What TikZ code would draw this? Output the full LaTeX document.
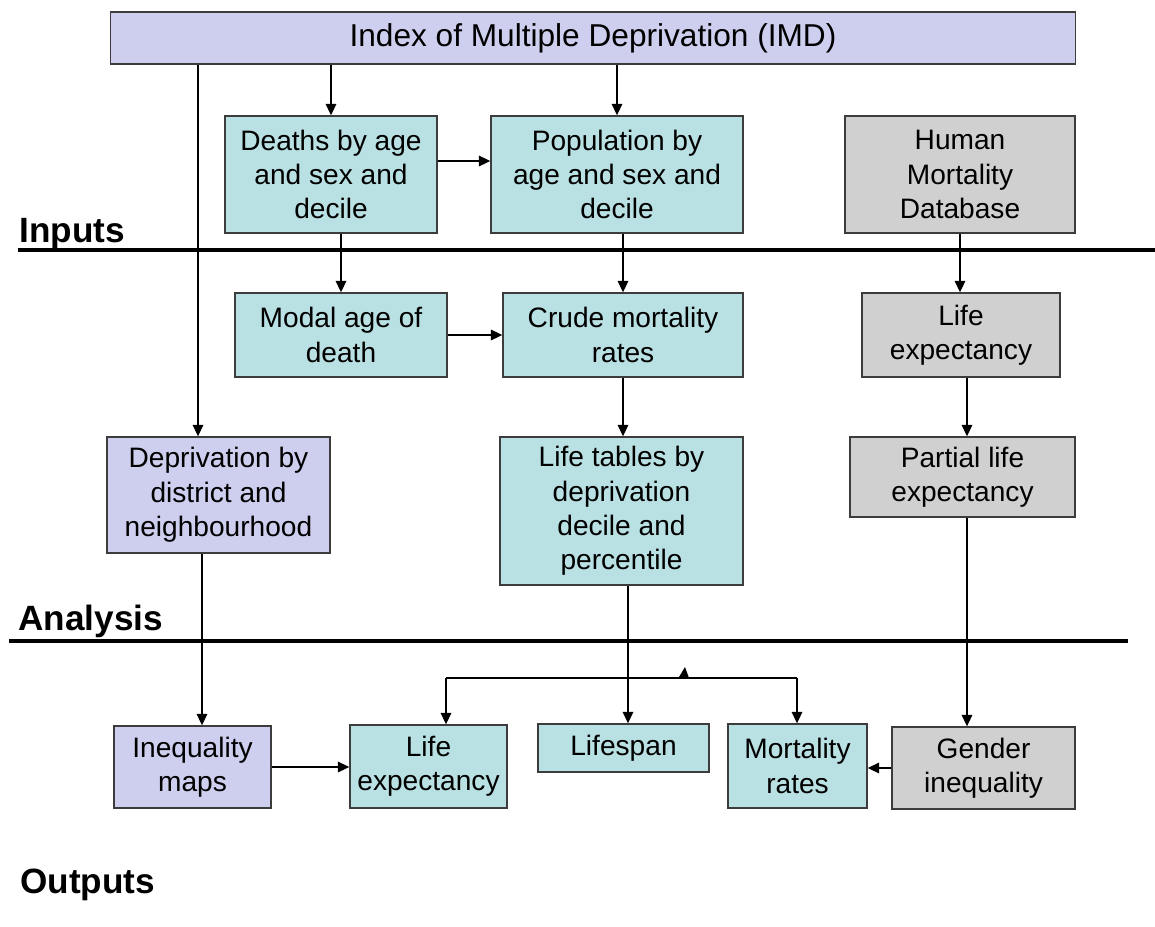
\documentclass[tikz,border=0pt]{standalone}
\usepackage{fontspec}
\setmainfont{Liberation Sans}
\usetikzlibrary{arrows.meta}
\usetikzlibrary{positioning}
\definecolor{imdblue}{RGB}{206,206,238}
\definecolor{tealbox}{RGB}{185,224,226}
\definecolor{greybox}{RGB}{208,208,208}
\definecolor{boxline}{RGB}{60,60,60}

\begin{document}
\begin{tikzpicture}[x=0.02cm, y=-0.02cm,
  box/.style={draw=boxline, line width=0.8pt, align=center, inner sep=0pt, font=\fontsize{16}{19.6}\selectfont},
  imdbox/.style={box, fill=imdblue},
  tbox/.style={box, fill=tealbox},
  gbox/.style={box, fill=greybox},
  flow/.style={-{Triangle[length=6.5pt,width=6pt]}, line width=0.8pt},
  rule/.style={line width=1.8pt},
  stage/.style={font=\bfseries\fontsize{20}{24}\selectfont, anchor=base west, inner sep=0pt}]
  \useasboundingbox (0,0) rectangle (1155,926);

  \node[imdbox, minimum width=19.3cm, minimum height=1.04cm, font=\fontsize{18}{20}\selectfont] (imd) at (593,38) {Index of Multiple Deprivation (IMD)};

  \node[tbox, minimum width=4.24cm, minimum height=2.34cm] (deaths) at (331,174.5) {Deaths by age\\and sex and\\decile};
  \node[tbox, minimum width=5.04cm, minimum height=2.34cm] (pop) at (617,174.5) {Population by\\age and sex and\\decile};
  \node[gbox, minimum width=4.6cm, minimum height=2.34cm] (hmd) at (960,174.5) {Human\\Mortality\\Database};

  \node[tbox, minimum width=4.24cm, minimum height=1.68cm] (modal) at (341,335) {Modal age of\\death};
  \node[tbox, minimum width=4.8cm, minimum height=1.68cm] (crude) at (623,335) {Crude mortality\\rates};
  \node[gbox, minimum width=3.96cm, minimum height=1.68cm] (lexpg) at (961,335) {Life\\expectancy};

  \node[imdbox, minimum width=4.46cm, minimum height=2.32cm] (dep) at (218.5,495) {Deprivation by\\district and\\neighbourhood};
  \node[tbox, minimum width=4.86cm, minimum height=2.96cm] (tables) at (621.5,511) {Life tables by\\deprivation\\decile and\\percentile};
  \node[gbox, minimum width=4.5cm, minimum height=1.6cm] (partial) at (962.5,477) {Partial life\\expectancy};

  \node[imdbox, minimum width=3.14cm, minimum height=1.64cm] (ineq) at (192.5,767) {Inequality\\maps};
  \node[tbox, minimum width=3.14cm, minimum height=1.66cm] (lexp) at (428.5,766.5) {Life\\expectancy};
  \node[tbox, minimum width=3.42cm, minimum height=0.96cm] (span) at (623.5,748) {Lifespan};
  \node[tbox, minimum width=2.78cm, minimum height=1.68cm] (mort) at (797.5,766) {Mortality\\rates};
  \node[gbox, minimum width=3.66cm, minimum height=1.64cm] (gender) at (983.5,768) {Gender\\inequality};

  \node[stage] (inputs) at (19,242) {Inputs};
  \node[stage] (analysis) at (18,630) {Analysis};
  \node[stage] (outputs) at (20,893) {Outputs};
  \draw[rule] (18,250) -- (1155,250);
  \draw[rule] (9,641) -- (1128,641);

  \coordinate (depin) at ([xshift=-0.41cm]dep.north);
  \coordinate (depout) at ([xshift=-0.33cm]dep.south);
  \draw[flow] (imd.south -| deaths.north) -- (deaths.north);
  \draw[flow] (imd.south -| pop.north) -- (pop.north);
  \draw[flow] (imd.south -| depin) -- (depin);
  \draw[flow] ([yshift=0.27cm]deaths.east) -- ([yshift=0.27cm]deaths.east -| pop.west);
  \draw[flow] (deaths.south -| modal.north) -- (modal.north);
  \draw[flow] (pop.south -| crude.north) -- (crude.north);
  \draw[flow] (modal.east) -- (crude.west);
  \draw[flow] (crude.south) -- (crude.south |- tables.north);
  \draw[flow] (hmd.south) -- (hmd.south |- lexpg.north);
  \draw[flow] ([xshift=0.12cm]lexpg.south) -- ([xshift=0.12cm]lexpg.south |- partial.north);
  \draw[flow] ([xshift=0.09cm]partial.south) -- ([xshift=0.09cm]partial.south |- gender.north);
  \draw[flow] (depout) -- (depout |- ineq.north);
  \draw[flow] ([xshift=0.13cm]tables.south) -- ([xshift=0.13cm]tables.south |- span.north);
  \draw[flow] (ineq.east) -- (ineq.east -| lexp.west);
  \draw[flow] (gender.west) -- (gender.west -| mort.east);

  \coordinate (barL) at (446,678);
  \coordinate (barR) at (797,678);
  \draw[line width=0.8pt] (barL) -- (barR);
  \draw[flow] (barL) -- (barL |- lexp.north);
  \draw[flow] (barR) -- (barR |- mort.north);
  \fill (679,677) -- (689,678) -- (685,667) -- cycle;
\end{tikzpicture}
\end{document}
